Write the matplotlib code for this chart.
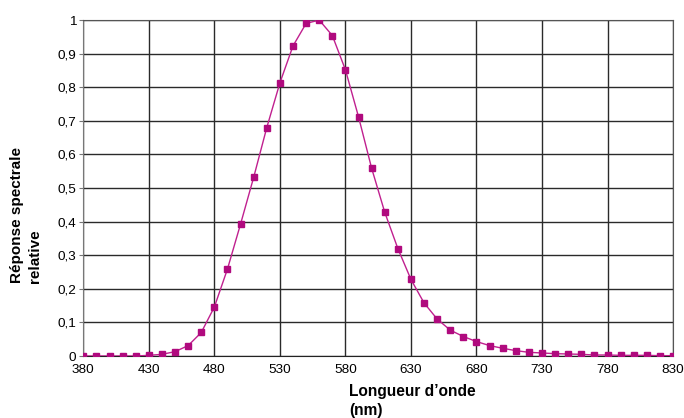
import matplotlib
matplotlib.use("Agg")
import matplotlib.pyplot as plt
from matplotlib.ticker import FuncFormatter

# relative spectral response (10 nm steps)
wavelengths = list(range(380, 831, 10))
response = [
    0.0, 0.0, 0.0, 0.0, 0.0, 0.002, 0.005, 0.013, 0.031, 0.070,
    0.146, 0.259, 0.393, 0.532, 0.680, 0.813, 0.923, 0.990, 1.0, 0.954,
    0.852, 0.712, 0.559, 0.428, 0.320, 0.228, 0.158, 0.110, 0.077, 0.058,
    0.043, 0.031, 0.023, 0.016, 0.011, 0.009, 0.007, 0.006, 0.005, 0.003,
    0.003, 0.002, 0.002, 0.002, 0.001, 0.001,
]
x_ticks = list(range(380, 831, 50))
y_ticks = [i / 10 for i in range(11)]

plt.rcParams['font.family'] = ['Liberation Sans', 'DejaVu Sans']

fig = plt.figure(figsize=(6.84, 4.18), dpi=100)
ax = fig.add_axes([0.1218, 0.1483, 0.984 - 0.1218, 0.952 - 0.1483])

ax.plot(wavelengths, response, color='#c0208f', linewidth=1.0,
        marker='s', markersize=3.8, markerfacecolor='#b00a7e',
        markeredgecolor='#b00a7e', zorder=3)

ax.set_xlim(380, 830)
ax.set_ylim(0, 1)
ax.set_xticks(x_ticks)
ax.set_yticks(y_ticks)
ax.yaxis.set_major_formatter(FuncFormatter(
    lambda v, pos: '0' if v == 0 else ('1' if v == 1 else f'{v:.1f}'.replace('.', ','))))
ax.grid(True, color='#2a2a2a', linewidth=1.0)
ax.set_axisbelow(True)
for side in ['top', 'right']:
    ax.spines[side].set_color('#555555')
ax.spines['left'].set_color('#777777')
ax.spines['bottom'].set_color('#222222')
ax.tick_params(axis='y', length=3, color='#777777', labelsize=9.7, pad=2)
ax.tick_params(axis='x', length=0, labelsize=9.7, pad=6)

fig.text(26 / 684, 1 - 283 / 418, 'Réponse spectrale\nrelative', rotation=90,
         ha='center', va='bottom', multialignment='left',
         fontsize=11, fontweight='bold', linespacing=1.45)
fig.text(349 / 684, 1 - 384 / 418, 'Longueur d’onde\n(nm)', ha='left', va='top',
         fontsize=11.2, fontweight='bold', linespacing=1.3)

fig.savefig('out.png', dpi=100)
